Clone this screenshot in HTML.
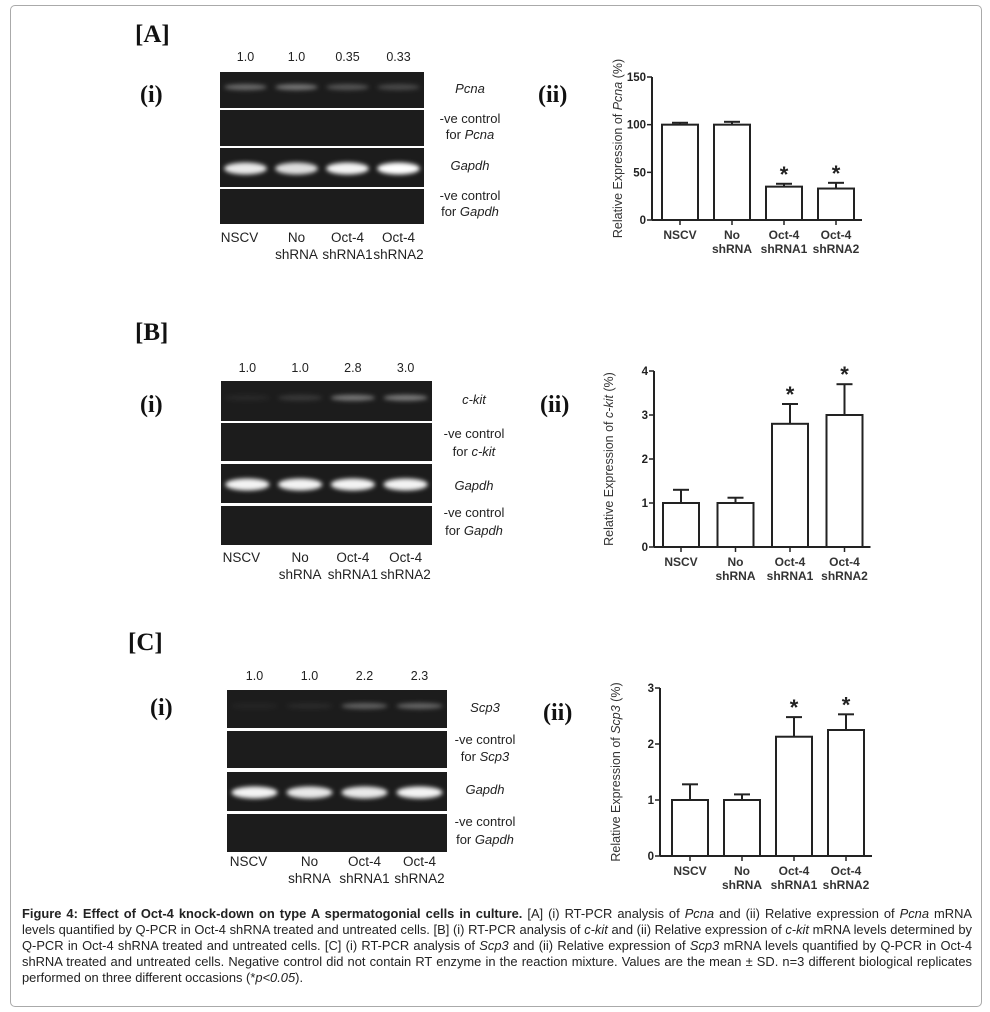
<!DOCTYPE html>
<html><head><meta charset="utf-8">
<style>
body{margin:0;background:#fff;width:990px;height:1012px;overflow:hidden;font-family:"Liberation Sans",sans-serif;}
#frame{position:absolute;left:10px;top:5px;width:972px;height:1002px;border:1px solid #aaa;border-radius:5px;box-sizing:border-box;}
#cap{position:absolute;left:22px;top:906px;width:950px;font-size:12.9px;line-height:16px;color:#222;text-align:justify;}
svg{position:absolute;left:0;top:0;}
</style></head><body>
<div id="frame"></div>
<svg id="fig" width="990" height="1012">
<defs><filter id="blur" x="-30%" y="-100%" width="160%" height="300%"><feGaussianBlur stdDeviation="2.2"/></filter></defs>
</svg>
<div id="cap"><b>Figure 4: Effect of Oct-4 knock-down on type A spermatogonial cells in culture.</b> [A] (i) RT-PCR analysis of <i>Pcna</i> and (ii) Relative expression of <i>Pcna</i> mRNA levels quantified by Q-PCR in Oct-4 shRNA treated and untreated cells. [B] (i) RT-PCR analysis of <i>c-kit</i> and (ii) Relative expression of <i>c-kit</i> mRNA levels determined by Q-PCR in Oct-4 shRNA treated and untreated cells. [C] (i) RT-PCR analysis of <i>Scp3</i> and (ii) Relative expression of <i>Scp3</i> mRNA levels quantified by Q-PCR in Oct-4 shRNA treated and untreated cells. Negative control did not contain RT enzyme in the reaction mixture. Values are the mean ± SD. n=3 different biological replicates performed on three different occasions (*<i>p&lt;0.05</i>).</div>
<script>
const categories=["NSCV","No shRNA","Oct-4 shRNA1","Oct-4 shRNA2"];
const pcnaValues=[100,100,35,33];
const pcnaErrors=[2,3,3,6];
const pcnaTicks=[0,50,100,150];
const ckitValues=[1,1,2.8,3.0];
const ckitErrors=[0.3,0.12,0.45,0.7];
const ckitTicks=[0,1,2,3,4];
const scp3Values=[1,1,2.13,2.25];
const scp3Errors=[0.28,0.1,0.35,0.28];
const scp3Ticks=[0,1,2,3];
const pcnaRatios=["1.0","1.0","0.35","0.33"];
const ckitRatios=["1.0","1.0","2.8","3.0"];
const scp3Ratios=["1.0","1.0","2.2","2.3"];
const pcnaBand=[0.35,0.4,0.25,0.2];
const ckitBand=[0.05,0.12,0.4,0.42];
const scp3Band=[0.04,0.06,0.3,0.32];
const gapdhBandA=[0.9,0.85,0.95,1];
const gapdhBandB=[0.95,0.95,0.95,0.95];
const gapdhBandC=[0.95,0.9,0.9,0.95];
const stars=[false,false,true,true];

const NS="http://www.w3.org/2000/svg";
const svg=document.getElementById('fig');
function mk(tag,attrs,parent,txt){const e=document.createElementNS(NS,tag);for(const k in attrs)e.setAttribute(k,attrs[k]);if(txt!==undefined)e.textContent=txt;(parent||svg).appendChild(e);return e;}

function panelLabel(x,y,t){
  const e=mk('text',{x:x,y:y,'font-family':'Liberation Serif','font-weight':'bold','font-size':25,fill:'#111'},svg,t);
  
  
}
function subLabel(x,y,t){
  const e=mk('text',{x:x,y:y,'font-family':'Liberation Serif','font-weight':'bold','font-size':24,fill:'#111'},svg,t);
  
  
}

function gel(g){
  const grp=mk('g',{});
  
  
  const lw=(g.x1-g.x0)/4;
  g.ratios.forEach((r,i)=>{
    const t=mk('text',{x:g.x0+lw*(i+0.5),y:g.ratioY,'text-anchor':'middle','font-size':12.5,fill:'#222'},grp,r);
    
    
  });
  g.rows.forEach((row,ri)=>{
    const rr=mk('rect',{x:g.x0,y:row[0],width:g.x1-g.x0,height:row[1]-row[0],fill:'#1c1c1c'},grp);
    
    
    const bands=ri===0?g.target:(ri===2?g.gapdh:null);
    if(bands){bands.forEach((v,i)=>{
      const cy=ri===0?(row[0]+(row[1]-row[0])*0.42):(row[0]+row[1])/2+1;
      const b=mk('ellipse',{cx:g.x0+lw*(i+0.5),cy:cy,rx:lw*0.42,ry:ri===2?6:3,fill:'#fff','fill-opacity':v,filter:'url(#blur)'},grp);
      
      
    });}
  });
  g.labels.forEach(l=>{
    const t=mk('text',{x:g.labX,y:l[0],'text-anchor':'middle','font-size':13,fill:'#222'},grp);
    
    
    t.innerHTML=l[1];
  });
  const lanes=[["NSCV"],["No","shRNA"],["Oct-4","shRNA1"],["Oct-4","shRNA2"]];
  lanes.forEach((ls,i)=>ls.forEach((s,j)=>{
    const t=mk('text',{x:g.x0+lw*(i+0.5)+(i===0?-6:0),y:g.laneY+j*17,'text-anchor':'middle','font-size':13.5,fill:'#222'},grp,s);
    
    
  }));
}

function chart(c){
  const grp=mk('g',{});
  
  
  const max=c.ticks[c.ticks.length-1];
  const yS=v=>c.y0-(c.y0-c.yTop)*v/max;
  const ax=mk('line',{x1:c.ax,y1:c.yTop,x2:c.ax,y2:c.y0,stroke:'#222','stroke-width':2},grp);
  
  
  const xl=mk('line',{x1:c.ax,y1:c.y0,x2:c.bx0+c.step*3+c.bw+8,y2:c.y0,stroke:'#222','stroke-width':2},grp);
  
  
  c.ticks.forEach(t=>{
    const y=yS(t);
    const tk=mk('line',{x1:c.ax-5,y1:y,x2:c.ax,y2:y,stroke:'#222','stroke-width':1.5},grp);
    
    
    const tl=mk('text',{x:c.ax-6,y:y+4,'text-anchor':'end','font-size':11.5,'font-weight':'bold',fill:'#222'},grp,String(t));
    
    
  });
  const tt=mk('text',{x:0,y:0,'text-anchor':'middle','font-size':12.5,fill:'#333',transform:`translate(${c.titleX},${(c.y0+c.yTop)/2}) rotate(-90)`},grp);
  
  
  tt.innerHTML='Relative Expression of <tspan font-style="italic">'+c.gene+'</tspan> (%)';
  const labs=[["NSCV"],["No","shRNA"],["Oct-4","shRNA1"],["Oct-4","shRNA2"]];
  c.values.forEach((v,i)=>{
    const x=c.bx0+c.step*i, cx=x+c.bw/2;
    const et=yS(v+c.errors[i]);
    const el=mk('line',{x1:cx,y1:yS(v),x2:cx,y2:et,stroke:'#222','stroke-width':2},grp);
    
    
    const ec=mk('line',{x1:cx-8,y1:et,x2:cx+8,y2:et,stroke:'#222','stroke-width':2},grp);
    
    
    const b=mk('rect',{x:x,y:yS(v),width:c.bw,height:c.y0-yS(v),fill:'#fff',stroke:'#222','stroke-width':2},grp);
    
    
    const xt=mk('line',{x1:cx,y1:c.y0,x2:cx,y2:c.y0+5,stroke:'#222','stroke-width':1.5},grp);
    
    
    if(stars[i]){
      const s=mk('text',{x:cx,y:et-2,'text-anchor':'middle','font-size':22,'font-weight':'bold',fill:'#222'},grp,'*');
      
      
    }
    labs[i].forEach((s,j)=>{
      const t=mk('text',{x:cx,y:c.y0+19+j*14,'text-anchor':'middle','font-size':12,'font-weight':'bold',fill:'#333'},grp,s);
      
      
    });
  });
}

// Panel A
panelLabel(135,42,'[A]');subLabel(140,102,'(i)');subLabel(538,102,'(ii)');
gel({x0:220,x1:424,ratioY:61,ratios:pcnaRatios,rows:[[72,108],[110,146],[148,187],[189,224]],target:pcnaBand,gapdh:gapdhBandA,labX:470,
  labels:[[93,'<tspan font-style="italic">Pcna</tspan>'],[123,'-ve control'],[139,'for <tspan font-style="italic">Pcna</tspan>'],[170,'<tspan font-style="italic">Gapdh</tspan>'],[200,'-ve control'],[216,'for <tspan font-style="italic">Gapdh</tspan>']],laneY:242});
chart({ax:652,y0:220,yTop:77,ticks:pcnaTicks,values:pcnaValues,errors:pcnaErrors,bx0:662,step:52,bw:36,titleX:622,gene:'Pcna'});

// Panel B
panelLabel(135,340,'[B]');subLabel(140,412,'(i)');subLabel(540,412,'(ii)');
gel({x0:221,x1:432,ratioY:372,ratios:ckitRatios,rows:[[381,421],[423,461],[464,503],[506,545]],target:ckitBand,gapdh:gapdhBandB,labX:474,
  labels:[[404,'<tspan font-style="italic">c-kit</tspan>'],[438,'-ve control'],[456,'for <tspan font-style="italic">c-kit</tspan>'],[490,'<tspan font-style="italic">Gapdh</tspan>'],[517,'-ve control'],[535,'for <tspan font-style="italic">Gapdh</tspan>']],laneY:562});
chart({ax:654,y0:547,yTop:371,ticks:ckitTicks,values:ckitValues,errors:ckitErrors,bx0:663,step:54.5,bw:36,titleX:613,gene:'c-kit'});

// Panel C
panelLabel(128,650,'[C]');subLabel(150,715,'(i)');subLabel(543,720,'(ii)');
gel({x0:227,x1:447,ratioY:680,ratios:scp3Ratios,rows:[[690,728],[731,768],[772,811],[814,852]],target:scp3Band,gapdh:gapdhBandC,labX:485,
  labels:[[712,'<tspan font-style="italic">Scp3</tspan>'],[744,'-ve control'],[761,'for <tspan font-style="italic">Scp3</tspan>'],[794,'<tspan font-style="italic">Gapdh</tspan>'],[826,'-ve control'],[844,'for <tspan font-style="italic">Gapdh</tspan>']],laneY:866});
chart({ax:660,y0:856,yTop:688,ticks:scp3Ticks,values:scp3Values,errors:scp3Errors,bx0:672,step:52,bw:36,titleX:620,gene:'Scp3'});
</script>
</body></html>
